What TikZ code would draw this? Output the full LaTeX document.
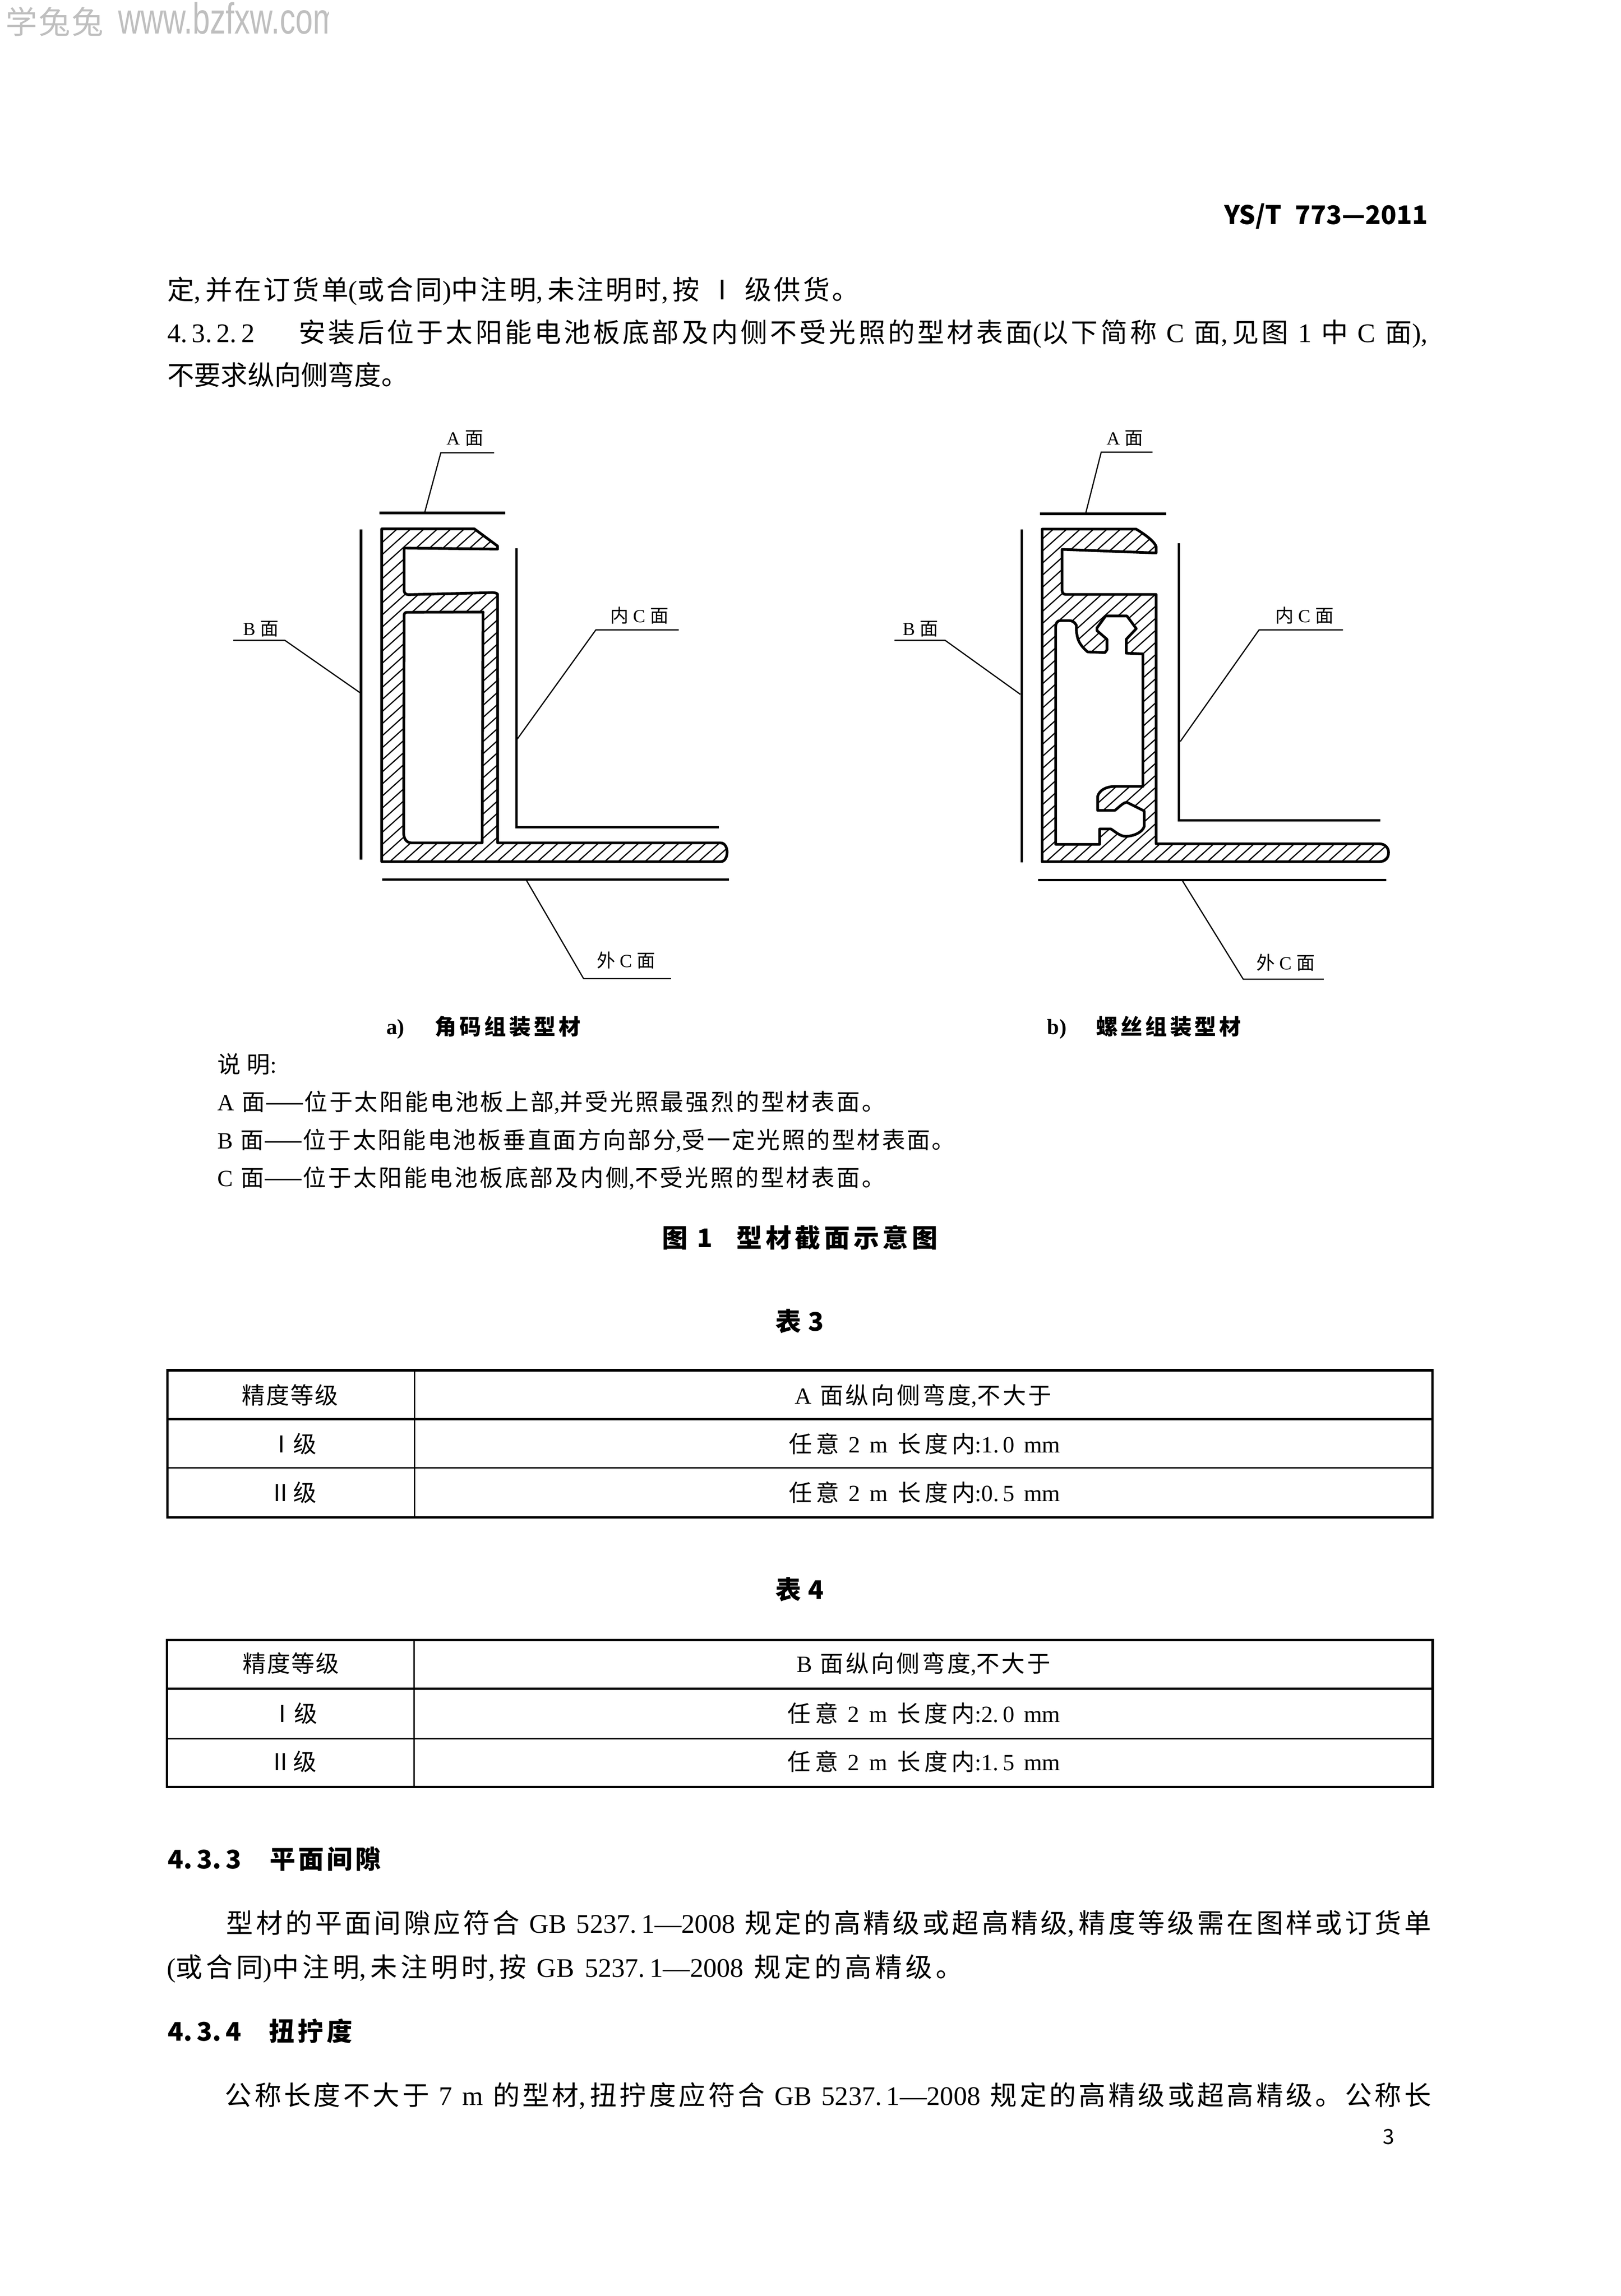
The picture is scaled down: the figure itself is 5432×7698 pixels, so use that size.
\documentclass[tikz,border=0pt]{standalone}
\usepackage{fontspec}
\usepackage{graphicx}
\setmainfont{Noto Sans CJK SC}
\newfontfamily\latfont{Liberation Serif}
\newfontfamily\markfont{Liberation Sans}
\newcommand{\lat}[1]{{\latfont #1}}
\newcommand{\wl}[2]{\hbox to #1pt{#2}}
% stretchable glue between CJK characters, so that each line can be set to the measured width
\newXeTeXintercharclass\cjkcls
\newcount\cjkcnt
\cjkcnt="4E00
\loop
  \XeTeXcharclass\cjkcnt=\cjkcls
  \advance\cjkcnt by 1
\ifnum\cjkcnt<"9FFF \repeat
\XeTeXcharclass"3002=\cjkcls
\XeTeXinterchartoks\cjkcls\cjkcls={\hskip 0pt plus 1pt minus .6pt\relax}
\XeTeXinterchartokenstate=1
\tikzset{
  txt/.style={inner sep=0pt,outer sep=0pt,anchor=base west},
  body/.style={txt,font=\fontsize{9}{10}\selectfont},
  legend/.style={txt,font=\fontsize{7.8}{9}\selectfont},
  cell/.style={txt,font=\fontsize{7.8}{9}\selectfont},
  head/.style={txt,font=\fontsize{8.6}{10}\selectfont\bfseries},
  capt/.style={txt,font=\fontsize{7.3}{8}\selectfont\bfseries},
  flabel/.style={inner sep=0pt,outer sep=0pt,font=\fontsize{6.2}{7}\selectfont},
  faceline/.style={line width=.95pt},
  innerc/.style={line width=.75pt,line join=miter},
  leader/.style={line width=.4pt,line join=miter},
  prof/.style={line width=.9pt,line join=round},
  hatchl/.style={line width=.4pt},
  frameo/.style={line width=.8pt},
  framei/.style={line width=.5pt},
}
\def\outerA{(1279.5,1773) -- (1589.7,1773) -- (1667.8,1830.8) -- (1667.8,1841) -- (1354.5,1837.5) -- (1354.5,1980.3) .. controls (1355,1988) and (1360,1993.7) .. (1368.7,1993.7) -- (1641,1987) .. controls (1652,1986) and (1664,1987) .. (1667.8,1992) -- (1668,2826) -- (2415,2826) .. controls (2430,2826) and (2437,2842) .. (2437,2857) .. controls (2437,2873) and (2430,2889) .. (2415,2889) -- (1279.5,2889) -- cycle}
\def\innerA{(1354.5,2062) .. controls (1355,2056) and (1358,2053) .. (1364,2053) -- (1619,2052) -- (1616,2826) -- (1380,2826) .. controls (1362,2826) and (1354,2812) .. (1353,2795) -- cycle}
\def\outerB{(3493,1774) -- (3808,1774) .. controls (3835,1790) and (3870,1815) .. (3875,1833) -- (3875,1854) -- (3560,1842) -- (3560,1980) .. controls (3560,1988) and (3565,1993) .. (3572,1993) -- (3875,1993) -- (3875,2829) -- (4622,2829) .. controls (4645,2829) and (4654,2845) .. (4654,2858) .. controls (4654,2875) and (4645,2889) .. (4622,2889) -- (3493,2889) -- cycle}
\def\innerB{(3538.4,2100.9) .. controls (3538.4,2088) and (3545,2080.8) .. (3554,2080.8) -- (3583,2080.8) .. controls (3595,2080.8) and (3603,2087) .. (3607.6,2096.4) .. controls (3608,2110) and (3607,2120) .. (3609.8,2127.7) .. controls (3613,2155) and (3630,2172) .. (3645.5,2185.7) -- (3703.6,2187.9) -- (3710.2,2179) -- (3710.2,2143.3) -- (3676.8,2114.3) -- (3676.8,2105.3) -- (3705.8,2065.2) -- (3777.2,2065.2) -- (3808.5,2107.6) -- (3775,2143.3) -- (3775,2190) -- (3830.8,2192.4) -- (3830.8,2636.6) -- (3734.8,2636.6) .. controls (3705,2638) and (3685,2650) .. (3679,2670) -- (3679,2717) -- (3737,2717) .. controls (3750,2707) and (3765,2690) .. (3777,2690) -- (3835.2,2719) -- (3835.2,2770.5) .. controls (3830,2790) and (3800,2804) .. (3772.7,2804) .. controls (3755,2804) and (3740,2790) .. (3723.6,2779.4) -- (3685.7,2779.4) -- (3685.7,2830.8) -- (3538.4,2830.8) -- cycle}
\begin{document}
\begin{tikzpicture}[x=0.1pt,y=-0.1pt]
\useasboundingbox[fill=white] (0,0) rectangle (5432,7698);

% watermark
\begin{scope}
\clip (0,0) rectangle (1102,200);
\node[txt,text=black!25,font=\fontsize{10.6}{12}\selectfont] (wm1) at (19,113) {学\hspace{.5pt}兔\hspace{.5pt}兔};
\node[txt,text=black!25,font=\fontsize{10.6}{12}\markfont] (wm2) at (396,113) {\resizebox{74pt}{!}{\scalebox{0.72}[1]{www.bzfxw.com}}};
\end{scope}

% page header and text above the figure
\node[txt,font=\fontsize{8.6}{10}\selectfont\bfseries] (hdr) at (4103,752) {\wl{68.3}{YS/T 773—2011}};
\node[body] (l1) at (561,1004) {\wl{231.8}{定\lat{,\,}并在订货单\lat{(}或合同\lat{)}中注明\lat{,\,}未注明时\lat{,\,}按\lat{ }Ⅰ\lat{ }级供货。}};
\node[body] (l2) at (561,1147) {\wl{422.5}{\makebox[44pt][l]{\lat{4.\,3.\,2.\,2}}安装后位于太阳能电池板底部及内侧不受光照的型材表面\lat{(}以下简称\lat{ C }面\lat{,\,}见图\lat{ 1 }中\lat{ C }面\lat{),}}};
\node[body] (l3) at (561,1291) {\wl{80.7}{不要求纵向侧弯度。}};

% profile a
\begin{scope}
\clip \outerA;
\foreach \k in {-30,...,26} {
  \pgfmathsetmacro{\xs}{1300+45*\k}
  \draw[hatchl] (\xs,2895) -- ++(1300,-1170);
}
\end{scope}
\draw[prof] \outerA;
\filldraw[prof,fill=white] \innerA;

\coordinate (aA0) at (1272,1720);
\coordinate (aA1) at (1693,1720);
\draw[faceline] (aA0) -- (aA1);
\coordinate (aAf) at (1423,1720);
\coordinate (aAk) at (1477.5,1518);
\coordinate (aAe) at (1656,1518);
\draw[leader] (aAf) -- (aAk) -- (aAe);
\node[flabel] (aAl) at (1559,1469) {\lat{A }面};

\coordinate (aB0) at (1210,1775);
\coordinate (aB1) at (1210,2882);
\draw[faceline] (aB0) -- (aB1);
\coordinate (aBs) at (782,2147);
\coordinate (aBk) at (955,2147);
\coordinate (aBf) at (1206,2322);
\draw[leader] (aBs) -- (aBk) -- (aBf);
\node[flabel] (aBl) at (874,2109) {\lat{B }面};

\coordinate (aC0) at (1731,1838);
\coordinate (aC1) at (1731,2774);
\coordinate (aC2) at (2409,2774);
\draw[innerc] (aC0) -- (aC1) -- (aC2);
\coordinate (aCs) at (2275,2112);
\coordinate (aCk) at (1997,2112);
\coordinate (aCf) at (1733,2479);
\draw[leader] (aCs) -- (aCk) -- (aCf);
\node[flabel] (aCl) at (2143,2064) {内\lat{ C }面};

\coordinate (aD0) at (1281,2949);
\coordinate (aD1) at (2443,2949);
\draw[innerc] (aD0) -- (aD1);
\coordinate (aDf) at (1763,2949);
\coordinate (aDk) at (1956,3281);
\coordinate (aDe) at (2249,3281);
\draw[leader] (aDf) -- (aDk) -- (aDe);
\node[flabel] (aDl) at (2099,3220) {外\lat{ C }面};

\node[capt] (capa1) at (1295,3468) {\lat{a)}};
\node[capt] (capa2) at (1457,3470) {\wl{48.9}{角码组装型材}};

% profile b
\begin{scope}
\clip \outerB;
\foreach \k in {-29,...,25} {
  \pgfmathsetmacro{\xs}{3545+45*\k}
  \draw[hatchl] (\xs,2895) -- ++(1300,-1170);
}
\end{scope}
\draw[prof] \outerB;
\filldraw[prof,fill=white] \innerB;

\coordinate (bA0) at (3485,1723);
\coordinate (bA1) at (3909,1723);
\draw[faceline] (bA0) -- (bA1);
\coordinate (bAf) at (3639,1721);
\coordinate (bAk) at (3691,1516);
\coordinate (bAe) at (3863,1516);
\draw[leader] (bAf) -- (bAk) -- (bAe);
\node[flabel] (bAl) at (3770,1469) {\lat{A }面};

\coordinate (bB0) at (3425,1775);
\coordinate (bB1) at (3425,2891);
\draw[innerc] (bB0) -- (bB1);
\coordinate (bBs) at (2998,2147);
\coordinate (bBk) at (3168,2147);
\coordinate (bBf) at (3420,2328);
\draw[leader] (bBs) -- (bBk) -- (bBf);
\node[flabel] (bBl) at (3085,2108) {\lat{B }面};

\coordinate (bC0) at (3951,1822);
\coordinate (bC1) at (3951,2750);
\coordinate (bC2) at (4626,2750);
\draw[innerc] (bC0) -- (bC1) -- (bC2);
\coordinate (bCs) at (4501,2112);
\coordinate (bCk) at (4220,2112);
\coordinate (bCf) at (3956,2486);
\draw[leader] (bCs) -- (bCk) -- (bCf);
\node[flabel] (bCl) at (4373,2063) {内\lat{ C }面};

\coordinate (bD0) at (3480,2951);
\coordinate (bD1) at (4647,2951);
\draw[innerc] (bD0) -- (bD1);
\coordinate (bDf) at (3962,2951);
\coordinate (bDk) at (4167,3283);
\coordinate (bDe) at (4437,3283);
\draw[leader] (bDf) -- (bDk) -- (bDe);
\node[flabel] (bDl) at (4309,3227) {外\lat{ C }面};

\node[capt] (capb1) at (3510,3468) {\lat{b)}};
\node[capt] (capb2) at (3674,3470) {\wl{48.6}{螺丝组装型材}};

% legend
\node[legend] (ln0) at (729,3598) {\wl{19.9}{说明\lat{:}}};
\node[legend] (ln1) at (729,3724) {\wl{223.8}{\lat{A }面——位于太阳能电池板上部\lat{,}并受光照最强烈的型材表面。}};
\node[legend] (ln2) at (729,3851) {\wl{247.3}{\lat{B }面——位于太阳能电池板垂直面方向部分\lat{,}受一定光照的型材表面。}};
\node[legend] (ln3) at (729,3977) {\wl{223.8}{\lat{C }面——位于太阳能电池板底部及内侧\lat{,}不受光照的型材表面。}};
\node[head] (figt) at (2219,4182) {\wl{92.4}{图 1\hspace{8pt}型材截面示意图}};
\node[head] (t3t) at (2600,4463) {\wl{16.2}{表 3}};

% table 3
\draw[frameo] (561,4594) rectangle (4801,5088);
\draw[frameo] (561,4758) -- (4801,4758);
\draw[framei] (561,4921) -- (4801,4921);
\draw[framei] (1389,4594) -- (1389,5088);
\node[cell] (t31a) at (811,4707) {\wl{32.2}{精度等级}};
\node[cell] (t31b) at (2665,4707) {\wl{86}{\lat{A }面纵向侧弯度\lat{,}不大于}};
\node[cell] (t32a) at (905,4871) {\wl{15.6}{Ⅰ\hfil 级}};
\node[cell] (t32b) at (2644,4871) {\wl{91}{任意\lat{ 2 m }长度内\lat{:1.\,0 mm}}};
\node[cell] (t33a) at (902,5034) {\wl{15.9}{Ⅱ\hfil 级}};
\node[cell] (t33b) at (2644,5034) {\wl{91}{任意\lat{ 2 m }长度内\lat{:0.\,5 mm}}};

% table 4
\node[head] (t4t) at (2600,5362) {\wl{16.2}{表 4}};
\draw[frameo] (560,5498) rectangle (4802,5991);
\draw[frameo] (560,5662) -- (4802,5662);
\draw[framei] (560,5830) -- (4802,5830);
\draw[framei] (1388,5498) -- (1388,5991);
\node[cell] (t41a) at (814,5606) {\wl{32.2}{精度等级}};
\node[cell] (t41b) at (2671,5606) {\wl{85}{\lat{B }面纵向侧弯度\lat{,}不大于}};
\node[cell] (t42a) at (908,5774) {\wl{15.6}{Ⅰ\hfil 级}};
\node[cell] (t42b) at (2640,5774) {\wl{91.4}{任意\lat{ 2 m }长度内\lat{:2.\,0 mm}}};
\node[cell] (t43a) at (902,5936) {\wl{15.9}{Ⅱ\hfil 级}};
\node[cell] (t43b) at (2640,5936) {\wl{91.4}{任意\lat{ 2 m }长度内\lat{:1.\,5 mm}}};

% text below the tables
\node[head] (h433) at (563,6266) {\wl{71.4}{\makebox[34.2pt][l]{4.\,3.\,3}平面间隙}};
\node[body] (p1a) at (759,6481) {\wl{403.8}{型材的平面间隙应符合\lat{ GB 5237.\,1—2008 }规定的高精级或超高精级\lat{,\,}精度等级需在图样或订货单}};
\node[body] (p1b) at (559,6628) {\wl{266.8}{\lat{(}或合同\lat{)}中注明\lat{,\,}未注明时\lat{,\,}按\lat{ GB 5237.\,1—2008 }规定的高精级。}};
\node[head] (h434) at (563,6843) {\wl{61.8}{\makebox[33.9pt][l]{4.\,3.\,4}扭拧度}};
\node[body] (p2a) at (754,7058) {\wl{404.3}{公称长度不大于\lat{ 7 m }的型材\lat{,\,}扭拧度应符合\lat{ GB 5237.\,1—2008 }规定的高精级或超高精级。公称长}};
\node[txt,font=\fontsize{7}{8}\selectfont] (pg) at (4635,7189) {3};
\end{tikzpicture}
\end{document}
